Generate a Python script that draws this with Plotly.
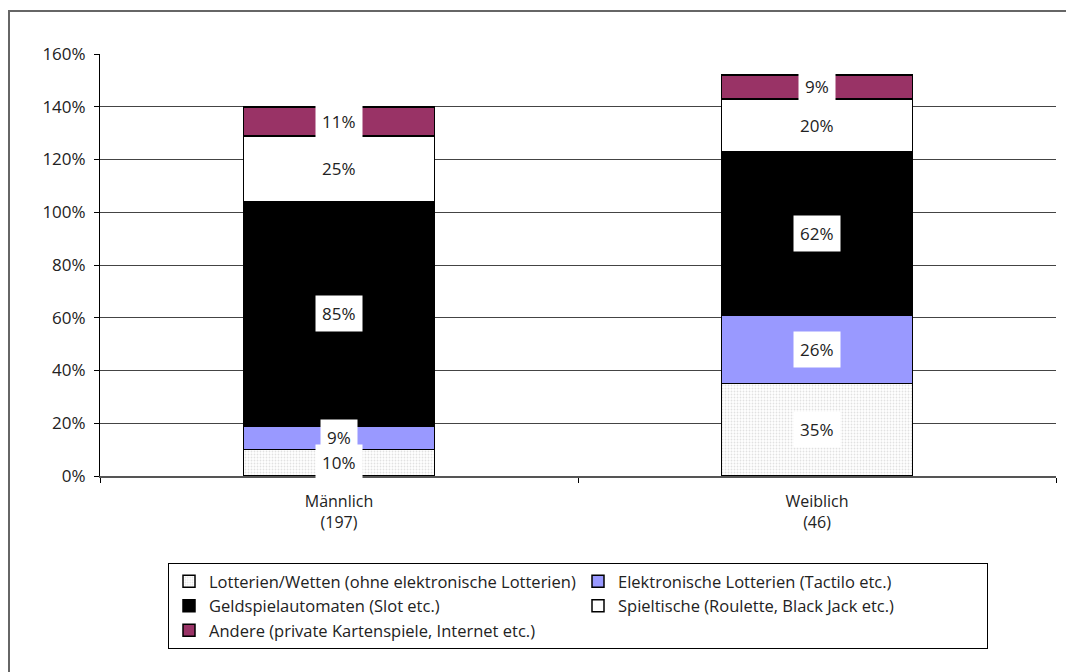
import plotly.graph_objects as go

# Gruppen (x-Achse) und Anteile je Spielart in Prozent
gruppen = ["Männlich<br>(197)", "Weiblich<br>(46)"]
spielarten = [
    "Lotterien/Wetten (ohne elektronische Lotterien)",
    "Elektronische Lotterien (Tactilo etc.)",
    "Geldspielautomaten (Slot etc.)",
    "Spieltische (Roulette, Black Jack etc.)",
    "Andere (private Kartenspiele, Internet etc.)",
]
lotterien = [10, 35]
elektronisch = [9, 26]
automaten = [85, 62]
spieltische = [25, 20]
andere = [11, 9]
y_ticks = [0, 20, 40, 60, 80, 100, 120, 140, 160]

serien = [lotterien, elektronisch, automaten, spieltische, andere]
farben = ["#f2f2f2", "#9999ff", "#000000", "#ffffff", "#993366"]

FONT = "Open Sans"
W, H = 1066, 672
ML, MR, MT, MB = 100, 10, 54, 196

fig = go.Figure()
for i, (name, werte, farbe) in enumerate(zip(spielarten, serien, farben)):
    marker = dict(color=farbe, line=dict(color="#000000", width=1.5))
    if i == 0:
        marker["pattern"] = dict(shape=".", fgcolor="#c4c4c4", bgcolor="#ffffff",
                                 size=3, solidity=0.3)
    fig.add_trace(go.Bar(x=gruppen, y=werte, name=name, marker=marker,
                         hoverinfo="skip"))

# Wertebeschriftungen mit weissem Hintergrund in der Mitte jedes Segments
for gi, g in enumerate(gruppen):
    basis = 0
    for werte in serien:
        v = werte[gi]
        fig.add_annotation(x=g, y=basis + v / 2, text=f"{v}%", showarrow=False,
                           bgcolor="#ffffff", borderpad=6,
                           font=dict(family=FONT, size=17, color="#222222"))
        basis += v

# Rahmen um die gesamte Grafik
pw, ph = W - ML - MR, H - MT - MB
fig.add_shape(type="rect", xref="paper", yref="paper",
              x0=(9 - ML) / pw, x1=(W + 20 - ML) / pw,
              y0=(H - MB - (H + 20)) / ph, y1=(H - MB - 11) / ph,
              line=dict(color="#666666", width=2), fillcolor="rgba(0,0,0,0)",
              layer="below")

fig.update_layout(
    width=W, height=H,
    margin=dict(l=ML, r=MR, t=MT, b=MB),
    barmode="stack", bargap=0.6,
    paper_bgcolor="#ffffff", plot_bgcolor="#ffffff",
    font=dict(family=FONT, size=16, color="#222222"),
    xaxis=dict(type="category", range=[-0.5, 1.5], tickson="boundaries",
               ticks="outside", ticklen=5, tickcolor="#000000",
               showline=True, linecolor="#555555", linewidth=1.5,
               showgrid=False, tickfont=dict(size=16),
               ticklabelstandoff=10),
    yaxis=dict(range=[0, 160], tickvals=y_ticks,
               ticktext=[f"{t}%" for t in y_ticks],
               ticks="outside", ticklen=5, tickcolor="#000000",
               showline=True, linecolor="#000000", linewidth=1,
               showgrid=True, gridcolor="#444444", gridwidth=1,
               zeroline=False, tickfont=dict(size=17),
               ticklabelstandoff=5),
    legend=dict(orientation="h", x=(168 - ML) / pw, xanchor="left",
                y=(H - MB - 563) / ph, yanchor="top",
                bordercolor="#000000", borderwidth=1,
                entrywidth=364, traceorder="normal",
                font=dict(family=FONT, size=16.5, color="#222222")),
)

fig.write_html("out.html")
